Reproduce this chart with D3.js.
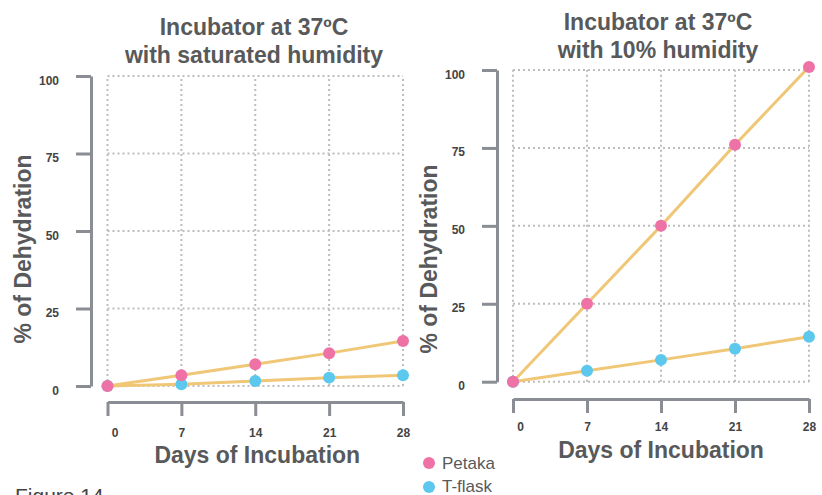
<!DOCTYPE html>
<html>
<head>
<meta charset="utf-8">
<script src="https://cdn.jsdelivr.net/npm/d3@7/dist/d3.min.js"></script>
<style>
  html, body { margin: 0; padding: 0; background: #fff; }
  svg { display: block; font-family: "Liberation Sans", Arial, Helvetica, sans-serif; }
</style>
</head>
<body>
<svg id="chart" width="822" height="495"></svg>
<script>
// ---- Data ----
const days = [0, 7, 14, 21, 28];
const yTicks = [0, 25, 50, 75, 100];
const seriesNames = ["Petaka", "T-flask"];
const leftTitle = ["Incubator at 37ºC", "with saturated humidity"];
const rightTitle = ["Incubator at 37ºC", "with 10% humidity"];
const leftPetaka = [0, 3.5, 7.0, 10.6, 14.5];
const leftTflask = [0, 0.6, 1.6, 2.7, 3.5];
const rightPetaka = [0, 25, 50, 76, 101];
const rightTflask = [0, 3.5, 7.0, 10.6, 14.4];
const xLabel = "Days of Incubation";
const yLabel = "% of Dehydration";
const figureLabel = "Figure 14";

// ---- Style ----
const pink = "#EE72A6";
const blue = "#5CC8EE";
const lineColor = "#EFC776";
const axisColor = "#8A8D93";
const gridColor = "#BDBDBD";
const textColor = "#58595B";

const svg = d3.select("#chart");

function panel(cfg) {
  const x = d3.scaleLinear().domain([0, 28]).range([cfg.x0, cfg.x1]);
  const y = d3.scaleLinear().domain([0, 100]).range([cfg.y0, cfg.y1]);
  const g = svg.append("g");

  // title
  cfg.title.forEach((t, i) => {
    g.append("text")
      .attr("x", cfg.titleX).attr("y", cfg.titleY + i * 28)
      .attr("text-anchor", "middle")
      .attr("font-size", 23).attr("font-weight", "bold")
      .attr("fill", textColor)
      .text(t);
  });

  // gridlines
  g.append("g").selectAll("line").data(yTicks).join("line")
    .attr("x1", x(0)).attr("x2", x(28))
    .attr("y1", d => y(d)).attr("y2", d => y(d))
    .attr("stroke", gridColor).attr("stroke-width", 2)
    .attr("stroke-dasharray", "2,3");
  g.append("g").selectAll("line").data(days).join("line")
    .attr("x1", d => x(d)).attr("x2", d => x(d))
    .attr("y1", y(0)).attr("y2", y(100))
    .attr("stroke", gridColor).attr("stroke-width", 2)
    .attr("stroke-dasharray", "2,3");

  // y axis
  const ya = g.append("g")
    .attr("transform", `translate(${cfg.yAxisX},0)`)
    .call(d3.axisLeft(y).tickValues(yTicks).tickSize(15).tickSizeOuter(0).tickPadding(17));
  ya.select(".domain").attr("stroke", axisColor).attr("stroke-width", 3);
  ya.selectAll(".tick line").attr("stroke", axisColor).attr("stroke-width", 3);
  ya.selectAll(".tick text")
    .attr("fill", "#444").attr("font-size", 12).attr("font-weight", "bold")
    .attr("font-family", "'Liberation Sans', Arial, sans-serif")
    .attr("dy", "0.75em").attr("y", -1);

  // x axis
  const xa = g.append("g")
    .attr("transform", `translate(0,${cfg.xAxisY})`)
    .call(d3.axisBottom(x).tickValues(days).tickSize(14).tickSizeOuter(0).tickPadding(cfg.xPad));
  xa.select(".domain").attr("stroke", axisColor).attr("stroke-width", 3);
  xa.selectAll(".tick line").attr("stroke", axisColor).attr("stroke-width", 3);
  xa.selectAll(".tick text")
    .attr("fill", "#444").attr("font-size", 12).attr("font-weight", "bold")
    .attr("font-family", "'Liberation Sans', Arial, sans-serif")
    .attr("dy", "0.71em")
    .attr("dx", d => d === 0 ? 7 : 0);

  // axis labels
  g.append("text")
    .attr("x", (x(0) + x(28)) / 2 + cfg.xLabelDx).attr("y", cfg.xLabelY)
    .attr("text-anchor", "middle")
    .attr("font-size", 23).attr("font-weight", "bold").attr("fill", textColor)
    .text(xLabel);
  g.append("text")
    .attr("transform", `translate(${cfg.yLabelX},${cfg.yLabelY}) rotate(-90)`)
    .attr("text-anchor", "middle")
    .attr("font-size", 23).attr("font-weight", "bold").attr("fill", textColor)
    .text(yLabel);

  // lines and points
  const line = d3.line().x((d, i) => x(days[i])).y(d => y(d));
  [cfg.tflask, cfg.petaka].forEach(vals => {
    g.append("path").datum(vals)
      .attr("d", line)
      .attr("fill", "none").attr("stroke", lineColor).attr("stroke-width", 3);
  });
  [[cfg.tflask, blue], [cfg.petaka, pink]].forEach(([vals, col]) => {
    g.append("g").selectAll("circle").data(vals).join("circle")
      .attr("cx", (d, i) => x(days[i])).attr("cy", d => y(d))
      .attr("r", 6).attr("fill", col);
  });
}

panel({
  x0: 107.5, x1: 403, y0: 386, y1: 76,
  yAxisX: 91, xAxisY: 402, xPad: 12,
  title: leftTitle, titleX: 254, titleY: 35,
  xLabelY: 463, xLabelDx: 2, yLabelX: 31, yLabelY: 249,
  petaka: leftPetaka, tflask: leftTflask
});
panel({
  x0: 513, x1: 809, y0: 381.7, y1: 70,
  yAxisX: 497, xAxisY: 399, xPad: 9,
  title: rightTitle, titleX: 658, titleY: 30,
  xLabelY: 458, xLabelDx: 0, yLabelX: 437, yLabelY: 259,
  petaka: rightPetaka, tflask: rightTflask
});

// legend
const legendColors = [pink, blue];
const lg = svg.append("g");
seriesNames.forEach((name, i) => {
  lg.append("circle").attr("cx", 429).attr("cy", 463 + i * 24).attr("r", 6).attr("fill", legendColors[i]);
  lg.append("text").attr("x", 442).attr("y", 469 + i * 23)
    .attr("font-size", 17).attr("fill", textColor).text(name);
});

// figure label
svg.append("text").attr("x", 15).attr("y", 503)
  .attr("font-size", 21).attr("fill", "#444").text(figureLabel);
</script>
</body>
</html>
